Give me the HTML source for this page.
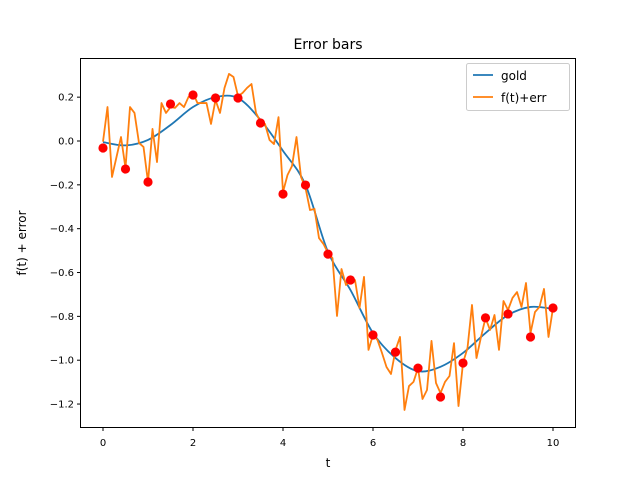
<!DOCTYPE html>
<html><head><meta charset="utf-8"><style>
body{margin:0;background:#fff}
svg{display:block;font-family:"DejaVu Sans","Liberation Sans",sans-serif}
</style></head><body>
<svg id="c" width="640" height="480" viewBox="0 0 640 480">
<rect x="0" y="0" width="640" height="480" fill="#fff"/>
<text x="328" y="49" text-anchor="middle" font-size="14">Error bars</text>
<g id="plot"></g>
<rect x="80.5" y="58.5" width="495" height="369" fill="none" stroke="#000" stroke-width="1"/>
<text x="328" y="467" text-anchor="middle" font-size="12">t</text>
<text transform="translate(26,243) rotate(-90)" text-anchor="middle" font-size="12">f(t) + error</text>
<g>
<rect x="466.5" y="63.5" width="103" height="47" rx="2" fill="#fff" stroke="#ccc"/>
<g><line x1="473" y1="75" x2="493" y2="75" stroke="#1f77b4" stroke-width="1.8"/><text x="501" y="80" font-size="12">gold</text></g>
<g><line x1="473" y1="97" x2="493" y2="97" stroke="#ff7f0e" stroke-width="1.8"/><text x="501" y="102" font-size="12">f(t)+err</text></g>
</g>
</svg>
<script>
const xTicks=[0,2,4,6,8,10];
const yTicks=[0.2,0.0,-0.2,-0.4,-0.6,-0.8,-1.0,-1.2];
const goldT=[0,0.5,1,1.5,2,2.5,3,3.5,4,4.5,5,5.5,6,6.5,7,7.5,8,8.5,9,9.5,10];
const goldV=[-0.005,-0.02,0.005,0.073,0.155,0.2,0.196,0.096,-0.045,-0.2,-0.506,-0.68,-0.876,-0.99,-1.05,-1.03,-0.967,-0.876,-0.794,-0.757,-0.766];
const errV=[-0.003,0.155,-0.164,-0.073,0.018,-0.123,0.155,0.128,-0.009,-0.027,-0.187,0.055,-0.096,0.173,0.128,0.155,0.151,0.173,0.155,0.201,0.219,0.173,0.173,0.173,0.078,0.187,0.128,0.242,0.306,0.292,0.205,0.219,0.242,0.260,0.128,0.087,0.078,0.005,-0.014,0.109,-0.233,-0.155,-0.114,0.018,-0.164,-0.214,-0.315,-0.310,-0.443,-0.470,-0.511,-0.534,-0.798,-0.584,-0.657,-0.634,-0.634,-0.762,-0.620,-0.953,-0.885,-0.908,-0.967,-1.031,-1.063,-0.953,-0.894,-1.227,-1.118,-1.099,-1.036,-1.177,-1.136,-0.912,-1.104,-1.150,-1.099,-1.072,-0.922,-1.209,-1.013,-0.944,-0.748,-0.990,-0.894,-0.807,-0.862,-0.794,-0.953,-0.730,-0.771,-0.716,-0.689,-0.757,-0.648,-0.876,-0.780,-0.757,-0.675,-0.894,-0.762];
const dotT=[0,0.5,1,1.5,2,2.5,3,3.5,4,4.5,5,5.5,6,6.5,7,7.5,8,8.5,9,9.5,10];
const dotV=[-0.032,-0.128,-0.187,0.169,0.210,0.196,0.196,0.082,-0.242,-0.201,-0.516,-0.634,-0.885,-0.963,-1.036,-1.168,-1.013,-0.807,-0.789,-0.894,-0.762];
const NS="http://www.w3.org/2000/svg";
const X=t=>103+t*45;
const Y=v=>141-v*219.2;
const svg=document.getElementById('c');
const plot=document.getElementById('plot');
function mk(tag,attrs,parent){const e=document.createElementNS(NS,tag);for(const k in attrs)e.setAttribute(k,attrs[k]);(parent||svg).appendChild(e);return e;}
xTicks.forEach(t=>{
 const g=mk('g',{});
 
 
 mk('line',{x1:X(t),x2:X(t),y1:427.5,y2:431,stroke:'#000'},g);
 const tx=mk('text',{x:X(t),y:446,'text-anchor':'middle','font-size':10},g);tx.textContent=t;
});
yTicks.forEach(v=>{
 const g=mk('g',{});
 
 
 mk('line',{x1:77,x2:80.5,y1:Y(v),y2:Y(v),stroke:'#000'},g);
 const tx=mk('text',{x:74,y:Y(v)+3.5,'text-anchor':'end','font-size':10},g);tx.textContent=v.toFixed(1).replace('-','\u2212');
});
let P=goldT.map((t,i)=>[X(t),Y(goldV[i])]);
let d='M'+P[0][0]+','+P[0][1];
for(let i=0;i<P.length-1;i++){const p0=P[Math.max(0,i-1)],p1=P[i],p2=P[i+1],p3=P[Math.min(P.length-1,i+2)];
 d+=' C'+(p1[0]+(p2[0]-p0[0])/6)+','+(p1[1]+(p2[1]-p0[1])/6)+' '+(p2[0]-(p3[0]-p1[0])/6)+','+(p2[1]-(p3[1]-p1[1])/6)+' '+p2[0]+','+p2[1];}
const gold=mk('path',{d:d,fill:'none',stroke:'#1f77b4','stroke-width':1.8},plot);


const pts=errV.map((v,i)=>X(i*0.1)+','+Y(v)).join(' ');
const err=mk('polyline',{points:pts,fill:'none',stroke:'#ff7f0e','stroke-width':1.8,'stroke-linejoin':'round'},plot);


dotT.forEach((t,i)=>{
 const c=mk('circle',{cx:X(t),cy:Y(dotV[i]),r:4.6,fill:'#ff0000'},plot);
 
 
});
</script>
</body></html>
